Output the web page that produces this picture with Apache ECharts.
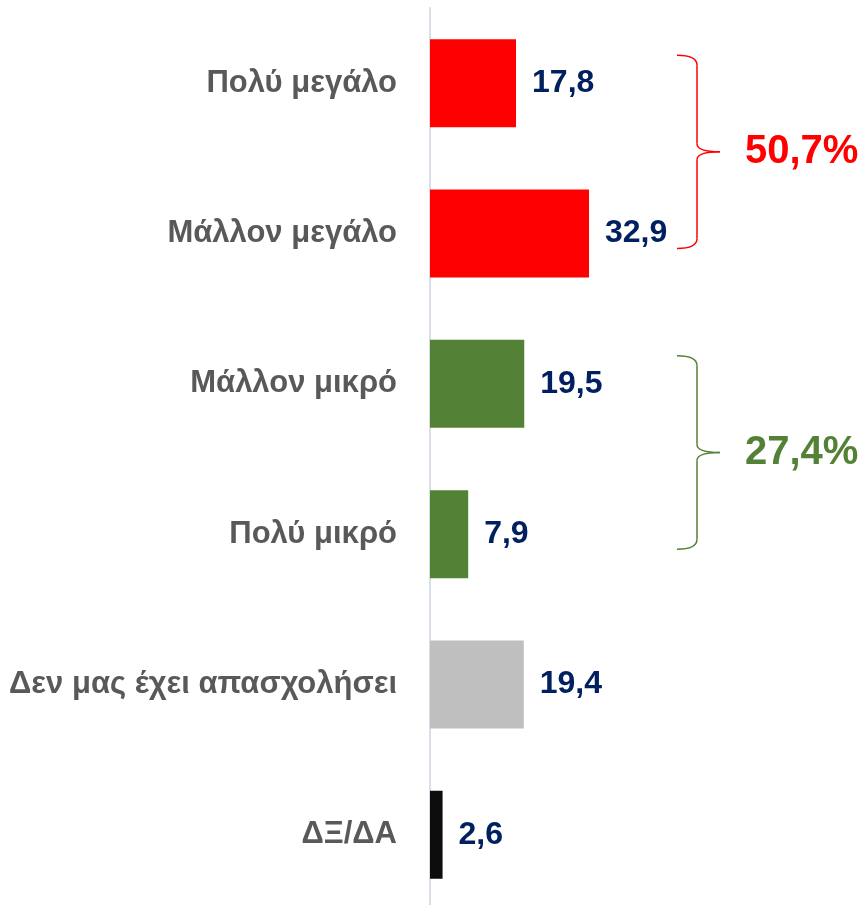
<!DOCTYPE html>
<html>
<head>
<meta charset="utf-8">
<script src="https://cdn.jsdelivr.net/npm/echarts@6/dist/echarts.min.js"></script>
<style>
  html, body { margin: 0; padding: 0; background: #fff; }
  #chart { width: 863px; height: 905px; }
</style>
</head>
<body>
<div id="chart"></div>
<script>
var categories = ['Πολύ μεγάλο', 'Μάλλον μεγάλο', 'Μάλλον μικρό', 'Πολύ μικρό', 'Δεν μας έχει απασχολήσει', 'ΔΞ/ΔΑ'];
var values = [17.8, 32.9, 19.5, 7.9, 19.4, 2.6];
var barColors = ['#ff0000', '#ff0000', '#538135', '#538135', '#bfbfbf', '#0d0d0d'];
// groups for the braces: [first index, last index, label, colour]
var groups = [
  [0, 1, '50,7%', '#ff0000'],
  [2, 3, '27,4%', '#538135']
];

var font = "'Liberation Sans', Arial, sans-serif";
var myChart = echarts.init(document.getElementById('chart'));

myChart.setOption({
  animation: false,
  grid: { left: 430, top: 8, width: 435, height: 902, containLabel: false, outerBoundsMode: 'none' },
  xAxis: {
    type: 'value', min: 0, max: 90, show: false
  },
  yAxis: {
    type: 'category',
    inverse: true,
    data: categories,
    axisLine: { show: true, lineStyle: { color: '#d9dee8', width: 2 } },
    axisTick: { show: false },
    axisLabel: {
      margin: 33,
      color: '#595959',
      fontFamily: font,
      fontWeight: 'bold',
      fontSize: 31
    }
  },
  series: [{
    type: 'bar',
    barWidth: 88,
    data: values.map(function (v, i) {
      return { value: v, itemStyle: { color: barColors[i] } };
    }),
    label: {
      show: true,
      position: 'right',
      distance: 16,
      color: '#002060',
      fontFamily: font,
      fontWeight: 'bold',
      fontSize: 32,
      formatter: function (p) { return String(p.value).replace('.', ','); }
    }
  }]
});

// braces with group totals
var x0 = 677, xLine = 697, xTip = 720;
var elements = [];
function curve(c, ax, ay, cx, cy, bx, by) {
  return { type: 'bezierCurve', shape: { x1: ax, y1: ay, x2: bx, y2: by, cpx1: cx, cpy1: cy },
           style: { fill: null, stroke: c, lineWidth: 1.5 } };
}
function seg(c, ax, ay, bx, by) {
  return { type: 'line', shape: { x1: ax, y1: ay, x2: bx, y2: by },
           style: { stroke: c, lineWidth: 1.5 } };
}
groups.forEach(function (g) {
  var c = g[3];
  var y1 = myChart.convertToPixel({ yAxisIndex: 0 }, g[0]) - 28;
  var y2 = myChart.convertToPixel({ yAxisIndex: 0 }, g[1]) + 15;
  var mid = (y1 + y2) / 2;
  elements.push(curve(c, x0, y1, xLine, y1, xLine, y1 + 10));
  elements.push(seg(c, xLine, y1 + 10, xLine, mid - 8));
  elements.push(curve(c, xLine, mid - 8, xLine, mid, xTip, mid));
  elements.push(curve(c, xTip, mid, xLine, mid, xLine, mid + 8));
  elements.push(seg(c, xLine, mid + 8, xLine, y2 - 10));
  elements.push(curve(c, xLine, y2 - 10, xLine, y2, x0, y2));
  elements.push({
    type: 'text',
    x: 745, y: mid,
    style: {
      text: g[2], fill: c, font: 'bold 40px ' + font,
      verticalAlign: 'middle'
    }
  });
});
myChart.setOption({ graphic: elements });
</script>
</body>
</html>
